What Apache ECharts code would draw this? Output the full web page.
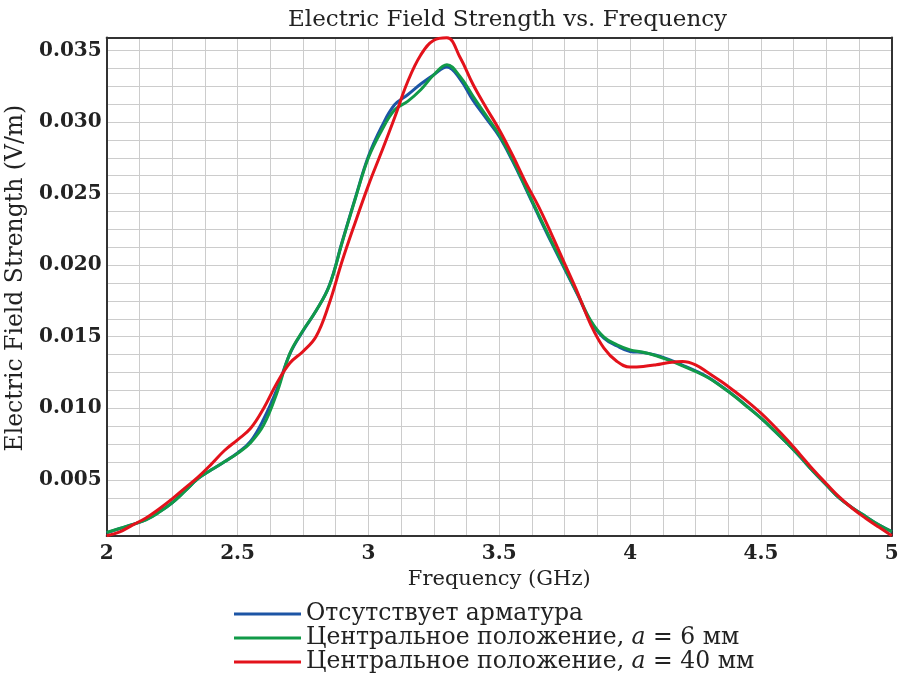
<!DOCTYPE html>
<html><head><meta charset="utf-8">
<script src="https://cdn.jsdelivr.net/npm/echarts@6/dist/echarts.min.js"></script>
<style>html,body{margin:0;padding:0;background:#fff}#c{width:900px;height:684px}</style>
</head><body><div id="c"></div>
<script>
const freq = [2.00,2.05,2.10,2.15,2.20,2.25,2.30,2.35,2.40,2.45,2.50,2.55,2.60,2.65,2.70,2.75,2.80,2.85,2.90,2.95,3.00,3.05,3.10,3.15,3.20,3.25,3.30,3.35,3.40,3.45,3.50,3.55,3.60,3.65,3.70,3.75,3.80,3.85,3.90,3.95,4.00,4.05,4.10,4.15,4.20,4.25,4.30,4.35,4.40,4.45,4.50,4.55,4.60,4.65,4.70,4.75,4.80,4.85,4.90,4.95,5.00];
const noRebar = [0.00130,0.00160,0.00189,0.00222,0.00275,0.00340,0.00424,0.00510,0.00570,0.00627,0.00688,0.00770,0.00925,0.01130,0.01380,0.01540,0.01681,0.01855,0.02165,0.02470,0.02760,0.02965,0.03120,0.03190,0.03265,0.03330,0.03384,0.03300,0.03150,0.03025,0.02899,0.02730,0.02540,0.02345,0.02155,0.01972,0.01790,0.01605,0.01490,0.01435,0.01397,0.01390,0.01370,0.01340,0.01302,0.01262,0.01215,0.01152,0.01085,0.01010,0.00932,0.00846,0.00756,0.00660,0.00558,0.00464,0.00372,0.00304,0.00244,0.00186,0.00139];
const center6 = [0.00132,0.00161,0.00189,0.00220,0.00273,0.00339,0.00423,0.00510,0.00570,0.00626,0.00685,0.00760,0.00884,0.01106,0.01384,0.01543,0.01681,0.01852,0.02160,0.02464,0.02750,0.02939,0.03084,0.03144,0.03225,0.03330,0.03400,0.03318,0.03179,0.03044,0.02911,0.02740,0.02548,0.02355,0.02165,0.01981,0.01796,0.01611,0.01497,0.01443,0.01408,0.01392,0.01367,0.01334,0.01297,0.01257,0.01211,0.01150,0.01082,0.01007,0.00931,0.00846,0.00756,0.00661,0.00558,0.00465,0.00372,0.00304,0.00244,0.00186,0.00139];
const center40 = [0.00110,0.00137,0.00186,0.00234,0.00297,0.00367,0.00444,0.00521,0.00610,0.00705,0.00780,0.00860,0.01000,0.01175,0.01316,0.01397,0.01501,0.01730,0.02030,0.02300,0.02557,0.02790,0.03030,0.03281,0.03468,0.03571,0.03588,0.03452,0.03262,0.03100,0.02946,0.02771,0.02582,0.02410,0.02215,0.02010,0.01805,0.01583,0.01420,0.01327,0.01288,0.01292,0.01304,0.01320,0.01327,0.01304,0.01246,0.01185,0.01117,0.01045,0.00966,0.00876,0.00780,0.00676,0.00570,0.00473,0.00379,0.00300,0.00232,0.00170,0.00110];
const seriesNames = ['Отсутствует арматура','Центральное положение, a = 6 мм','Центральное положение, a = 40 мм'];
const xTickLabels = [2,2.5,3,3.5,4,4.5,5];
const xGridValues = [2.125,2.25,2.375,2.5,2.625,2.75,2.875,3,3.125,3.25,3.375,3.5,3.625,3.75,3.875,4,4.125,4.25,4.375,4.5,4.625,4.75,4.875];
const yTickLabels = [0.005,0.010,0.015,0.020,0.025,0.030,0.035];
const yGridValues = [0.0025,0.00375,0.005,0.00625,0.0075,0.00875,0.01,0.01125,0.0125,0.01375,0.015,0.01625,0.0175,0.01875,0.02,0.02125,0.0225,0.02375,0.025,0.02625,0.0275,0.02875,0.03,0.03125,0.0325,0.03375,0.035];

const FONT = 'DejaVu Serif';
const colors = ['#1c55a5','#119a48','#e3121b'];
const chart = echarts.init(document.getElementById('c'), null, {renderer:'canvas'});
function mk(data){ return freq.map((f,i)=>[f,data[i]]); }
const frameLine = {show:true, onZero:false, lineStyle:{color:'#333', width:2}};
const option = {
  animation:false,
  backgroundColor:'#fff',
  title:{text:'Electric Field Strength vs. Frequency', left:283, top:4,
    textStyle:{fontFamily:FONT, fontWeight:'normal', fontSize:23, color:'#222'}},
  grid:{left:106.7, right:8.2, top:37.5, bottom:148.3, containLabel:false, outerBoundsMode:'none'},
  xAxis:[{type:'value', min:2, max:5, position:'bottom',
    axisLine:frameLine, axisTick:{show:false, customValues:xGridValues},
    axisLabel:{customValues:xTickLabels, margin:8, fontFamily:FONT, fontWeight:'bold', fontSize:20, color:'#222',
      formatter:v=>String(v)},
    splitLine:{show:true, lineStyle:{color:'#cccccc', width:1}},
    name:'Frequency (GHz)', nameLocation:'middle', nameGap:22,
    nameTextStyle:{fontFamily:FONT, fontSize:21, color:'#222'}},
   {type:'value', min:2, max:5, position:'top', axisLine:frameLine, axisTick:{show:false},
    axisLabel:{show:false}, splitLine:{show:false}}],
  yAxis:[{type:'value', min:0.0011, max:0.0359, position:'left',
    axisLine:frameLine, axisTick:{show:false, customValues:yGridValues},
    axisLabel:{customValues:yTickLabels, margin:5, fontFamily:FONT, fontWeight:'bold', fontSize:20, color:'#222',
      formatter:v=>v.toFixed(3)},
    splitLine:{show:true, lineStyle:{color:'#cccccc', width:1}},
    name:'Electric Field Strength (V/m)', nameLocation:'middle', nameGap:69,
    nameTextStyle:{fontFamily:FONT, fontSize:23.5, color:'#222', padding:[0,0,0,17]}},
   {type:'value', min:0.0011, max:0.0359, position:'right', axisLine:frameLine, axisTick:{show:false},
    axisLabel:{show:false}, splitLine:{show:false}}],
  legend:{orient:'vertical', left:229, top:597, itemGap:0, itemWidth:67, itemHeight:3, icon:'rect',
    data:seriesNames,
    formatter:n=>n.replace(', a =', ', {i|a} ='),
    textStyle:{fontFamily:FONT, fontSize:23.5, lineHeight:23.5, color:'#222',
      rich:{i:{fontFamily:FONT, fontSize:23.5, lineHeight:23.5, fontStyle:'italic', color:'#222'}}}},
  series:[noRebar, center6, center40].map((d,i)=>({
    name:seriesNames[i], type:'line', data:mk(d), smooth:0.4, showSymbol:false, symbol:'none',
    xAxisIndex:0, yAxisIndex:0,
    lineStyle:{color:colors[i], width:3}, itemStyle:{color:colors[i]}, z:2+i
  }))
};
chart.setOption(option);
</script></body></html>
